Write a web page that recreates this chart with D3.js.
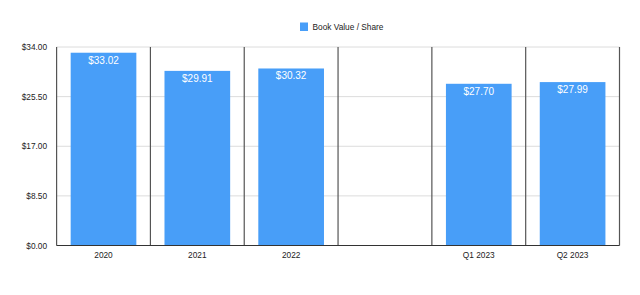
<!DOCTYPE html>
<html>
<head>
<meta charset="utf-8">
<script src="https://cdn.jsdelivr.net/npm/d3@7"></script>
<style>
  body { margin: 0; background: #fff; }
  text { font-family: "Liberation Sans", Arial, sans-serif; }
</style>
</head>
<body>
<div id="viz"></div>
<script>
const categories = ['2020', '2021', '2022', '', 'Q1 2023', 'Q2 2023'];
const values = [33.02, 29.91, 30.32, null, 27.70, 27.99];
const yTicks = [0, 8.5, 17, 25.5, 34];
const seriesName = 'Book Value / Share';

const width = 640;
const height = 295;
const margin = {top: 47, right: 20.5, bottom: 49.5, left: 56.6};
const barColor = '#489ef8';

const svg = d3.select('#viz')
  .append('svg')
    .attr('width', width)
    .attr('height', height);

const xScale = d3.scaleBand()
  .domain(d3.range(categories.length))
  .range([margin.left, width - margin.right])
  .paddingInner(0)
  .paddingOuter(0);

const yScale = d3.scaleLinear()
  .domain([0, 34])
  .range([height - margin.bottom, margin.top]);

// gridlines
svg.append('g')
  .selectAll('line')
  .data(yTicks)
  .join('line')
    .attr('x1', margin.left)
    .attr('x2', width - margin.right)
    .attr('y1', d => yScale(d))
    .attr('y2', d => yScale(d))
    .attr('stroke', '#dcdcdc')
    .attr('stroke-width', 1);

// y labels
svg.append('g')
  .selectAll('text')
  .data(yTicks)
  .join('text')
    .attr('x', margin.left - 9.5)
    .attr('y', d => yScale(d) + 3)
    .attr('text-anchor', 'end')
    .attr('font-size', 8.3)
    .attr('fill', '#222')
    .text(d => '$' + d3.format('.2f')(d));

// bars
const step = xScale.bandwidth();
svg.append('g')
  .selectAll('rect')
  .data(values.map((v, i) => ({v, i})).filter(d => d.v !== null))
  .join('rect')
    .attr('x', d => xScale(d.i) + step * 0.15)
    .attr('width', step * 0.7)
    .attr('y', d => yScale(d.v))
    .attr('height', d => yScale(0) - yScale(d.v))
    .attr('fill', barColor);

// value labels
svg.append('g')
  .selectAll('text')
  .data(values.map((v, i) => ({v, i})).filter(d => d.v !== null))
  .join('text')
    .attr('x', d => xScale(d.i) + step / 2)
    .attr('y', d => yScale(d.v) + 11)
    .attr('text-anchor', 'middle')
    .attr('font-size', 10)
    .attr('fill', '#fff')
    .text(d => '$' + d3.format('.2f')(d.v));

// separators
svg.append('g')
  .selectAll('line')
  .data(d3.range(categories.length + 1))
  .join('line')
    .attr('x1', i => i < categories.length ? xScale(i) : xScale.range()[1])
    .attr('x2', i => i < categories.length ? xScale(i) : xScale.range()[1])
    .attr('y1', yScale(34))
    .attr('y2', yScale(0))
    .attr('stroke', '#555')
    .attr('stroke-width', 1.2);

// baseline
svg.append('line')
  .attr('x1', margin.left)
  .attr('x2', width - margin.right)
  .attr('y1', yScale(0))
  .attr('y2', yScale(0))
  .attr('stroke', '#333')
  .attr('stroke-width', 1.2);

// x labels
svg.append('g')
  .selectAll('text')
  .data(categories)
  .join('text')
    .attr('x', (d, i) => xScale(i) + step / 2)
    .attr('y', yScale(0) + 12)
    .attr('text-anchor', 'middle')
    .attr('font-size', 8.3)
    .attr('fill', '#222')
    .text(d => d);

// legend
svg.append('rect')
  .attr('x', 300)
  .attr('y', 22.5)
  .attr('width', 8)
  .attr('height', 8.5)
  .attr('fill', barColor);
svg.append('text')
  .attr('x', 312.5)
  .attr('y', 30)
  .attr('font-size', 8.3)
  .attr('fill', '#222')
  .text(seriesName);
</script>
</body>
</html>
